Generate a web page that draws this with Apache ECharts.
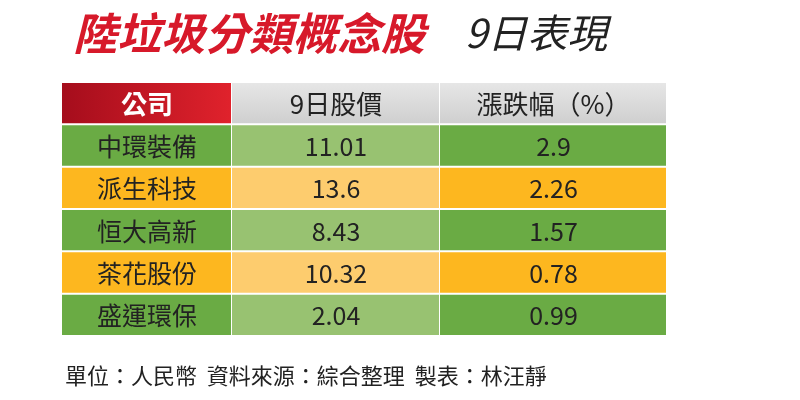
<!DOCTYPE html>
<html>
<head>
<meta charset="UTF-8">
<title>table</title>
<script src="https://cdn.jsdelivr.net/npm/echarts@6/dist/echarts.min.js"></script>
<style>
  *{margin:0;padding:0}
  #main{width:800px;height:400px;background:#fff}
</style>
</head>
<body>
<div id="main"></div>
<script>
// 表格資料
var headers = ['公司', '9日股價', '漲跌幅（%）'];
var companies = ['中環裝備', '派生科技', '恒大高新', '茶花股份', '盛運環保'];
var prices = ['11.01', '13.6', '8.43', '10.32', '2.04'];
var changes = ['2.9', '2.26', '1.57', '0.78', '0.99'];

// 欄寬 (畫素比例)
var colEdges = [0, 170, 378, 605];
var rowNames = ['h'].concat(companies);

var cells = [];
rowNames.forEach(function (r, ri) {
  for (var c = 0; c < 3; c++) {
    var txt = ri === 0 ? headers[c] : [companies, prices, changes][c][ri - 1];
    cells.push([c, ri, txt]);
  }
});

function cellColor(c, r) {
  if (r === 0) {
    if (c === 0) return new echarts.graphic.LinearGradient(0, 0, 1, 0, [{offset: 0, color: '#a50d1c'}, {offset: 1, color: '#e0222c'}]);
    return new echarts.graphic.LinearGradient(0, 0, 0, 1, [{offset: 0, color: '#e6e6e6'}, {offset: 1, color: '#cfcfcf'}]);
  }
  var green = r % 2 === 1;
  if (c === 1) return green ? '#98c271' : '#fdcc6e';
  return green ? '#6aab44' : '#fdb71f';
}

var myChart = echarts.init(document.getElementById('main'));
var option = {
  title: [
    {text: '陸垃圾分類概念股', left: 68, top: 6,
     textStyle: {color: '#d7192a', fontSize: 44, fontStyle: 'italic', fontWeight: 'bold', fontFamily: 'Noto Sans CJK TC'}},
    {text: '9日表現', left: 460, top: 8,
     textStyle: {color: '#222', fontSize: 40, fontStyle: 'italic', fontWeight: 'normal', fontFamily: 'Noto Sans CJK TC'}},
    {text: '單位：人民幣  資料來源：綜合整理  製表：林汪靜', left: 60, top: 360,
     textStyle: {color: '#222', fontSize: 22, fontWeight: 'normal', fontFamily: 'Noto Sans CJK TC'}}
  ],
  grid: {left: 62, right: 133, top: 83, bottom: 63},
  xAxis: {type: 'value', min: 0, max: 605, show: false},
  yAxis: {type: 'category', data: rowNames, inverse: true, show: false},
  series: [{
    type: 'custom',
    data: cells,
    renderItem: function (params, api) {
      var c = api.value(0), r = api.value(1);
      var x0 = api.coord([colEdges[c], r])[0];
      var x1 = api.coord([colEdges[c + 1], r])[0];
      var yc = api.coord([0, r])[1];
      var h = api.size([0, 1])[1];
      var header = r === 0;
      return {
        type: 'group',
        children: [{
          type: 'rect',
          shape: {x: x0, y: yc - h / 2, width: x1 - x0 - 1, height: h - 2},
          style: {fill: cellColor(c, r)}
        }, {
          type: 'text',
          style: {
            text: cells[params.dataIndex][2],
            x: (x0 + x1) / 2, y: yc,
            align: 'center', verticalAlign: 'middle',
            fill: header && c === 0 ? '#fff' : '#222',
            fontSize: header ? 26 : 25,
            fontWeight: header && c === 0 ? 'bold' : 'normal',
            fontFamily: 'Noto Sans CJK TC'
          }
        }]
      };
    }
  }]
};
myChart.setOption(option);
</script>
</body>
</html>
